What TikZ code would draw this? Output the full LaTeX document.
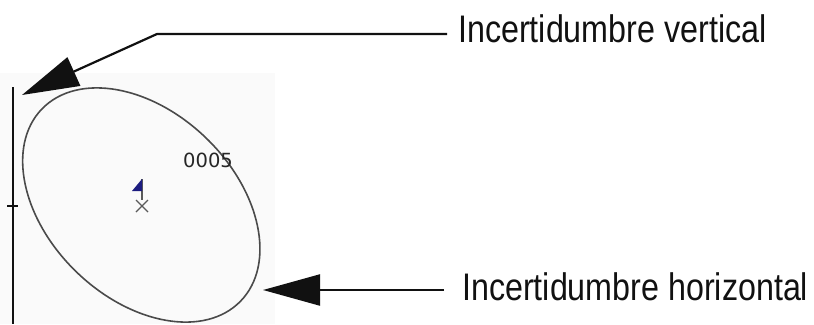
\documentclass[tikz,border=0pt]{standalone}
\usepackage{fontspec}
\usetikzlibrary{arrows.meta}
\newfontfamily\labelfont[FakeStretch=0.84]{Liberation Sans}
\newfontfamily\smallfont{DejaVu Sans}
\definecolor{inkblack}{HTML}{111111}
\definecolor{ellgray}{HTML}{4A4A4A}
\definecolor{flagblue}{HTML}{1C1C80}
\definecolor{markgray}{HTML}{5A5A5A}
\definecolor{panelbg}{HTML}{FAFAFA}
\begin{document}
\begin{tikzpicture}[x=1pt,y=-1pt,
  lbl/.style={inner ysep=0pt, text=inkblack, font=\labelfont\fontsize{38.4pt}{40pt}\selectfont},
  pointer/.style={draw=inkblack, line width=2.2pt, -{Triangle[length=57pt,width=31pt]}},
  axisline/.style={draw=inkblack, line width=2.4pt},
  ellline/.style={draw=ellgray, line width=1.6pt},
]
\useasboundingbox (0,0) rectangle (814,324);
\fill[panelbg] (0,73) rectangle (275,324);

% vertical axis with tick
\coordinate (axtop) at (13,87);
\coordinate (axbot) at (13,324);
\coordinate (tickl) at (7,206);
\coordinate (tickr) at (18,206);
\draw[axisline] (axtop) -- (axbot);
\draw[draw=inkblack, line width=1.6pt] (tickl) -- (tickr);

% uncertainty ellipse
\coordinate (ctr) at (141.3,205);
\draw[ellline, rotate around={-44:(ctr)}] (ctr) ellipse [x radius=138.2pt, y radius=93.2pt];

% point label
\node[anchor=base west, inner sep=0pt, text=black!85, font=\smallfont\fontsize{19.5pt}{20pt}\selectfont] (num) at (183,167) {0005};

% flag
\coordinate (poletop) at (142,179);
\coordinate (polebot) at (142,200);
\coordinate (flagl) at (132,191);
\coordinate (flagr) at (142,191);
\draw[markgray, line width=1.2pt] (poletop) -- (polebot);
\fill[flagblue] (poletop) -- (flagl) -- (flagr) -- cycle;

% cross mark
\coordinate (xa) at (136,200);
\coordinate (xb) at (148,212);
\coordinate (xc) at (136,212);
\coordinate (xd) at (148,200);
\draw[markgray, line width=1.3pt] (xa) -- (xb) (xc) -- (xd);

% labels
\node[lbl, anchor=base west, inner xsep=11pt, xshift=-11pt] (vlab) at (458,42.3) {Incertidumbre vertical};
\node[lbl, anchor=base west, inner xsep=18pt, xshift=-18pt] (hlab) at (462,300) {Incertidumbre horizontal};

% pointers
\coordinate (vcorner) at (157,34);
\coordinate (vtip) at (22,95);
\coordinate (htip) at (263,290);
\draw[pointer] (vlab.west |- vcorner) -- (vcorner) -- (vtip);
\draw[pointer] (hlab.west |- htip) -- (htip);
\end{tikzpicture}
\end{document}
